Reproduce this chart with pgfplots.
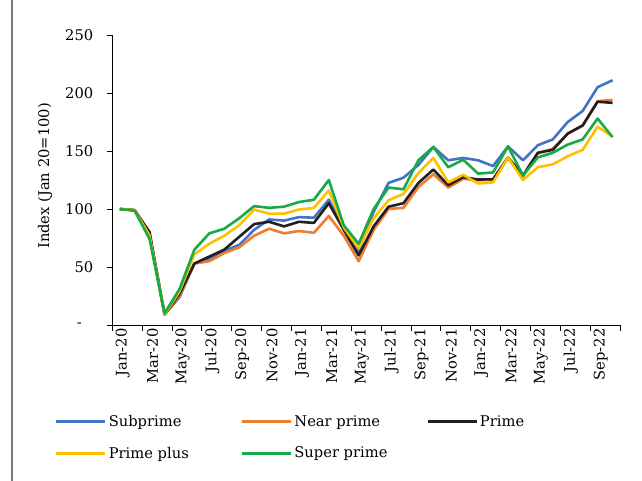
\documentclass[border=0pt]{standalone}
\usepackage{fontspec}
\setmainfont{DejaVu Serif}
\usepackage{pgfplots}
\pgfplotsset{compat=1.18}
\usepackage{pgfplotstable}
\definecolor{cSub}{RGB}{68,114,196}
\definecolor{cNear}{RGB}{237,125,49}
\definecolor{cPrime}{RGB}{35,31,32}
\definecolor{cPlus}{RGB}{255,192,0}
\definecolor{cSuper}{RGB}{22,170,72}
\definecolor{cFrame}{RGB}{120,120,120}
\newcommand{\fs}{\fontsize{14.7}{17.6}\selectfont}
\pgfplotstableread{
m sub near prime plus super
0 100 100 100 100 100
1 99 99 99 99 98.5
2 77 77 80 77 74
3 9 9 9 9 10
4 24 25 27 29 31
5 53 53 53 61 65
6 57 55 59 70 79
7 64 62 65 77 83
8 69 67 76 86 92
9 82 77 87 99.5 102.5
10 91 83 89 96 101
11 90 79 85 96 102
12 93 81 89 99.5 106
13 92.5 79.5 88 101 108
14 108 94 105 116 125
15 83 77 82 84 86
16 64 55 60 66 70
17 97.5 82 85 92 100
18 122.5 100 102 107.5 118.5
19 127 101 105 113 117
20 138 119 122.5 131 142
21 153.5 130 134 144 153.5
22 142 118.5 120.5 123 136
23 144 126 127.5 129.5 142.5
24 142 124.8 125.4 122 130.5
25 137 125 125.6 123 131.5
26 154 144 144.5 144.5 154
27 142 128 129 125 129
28 155 148 148.5 136 144.5
29 160 152 151 138.5 148.5
30 175 165 165 145.5 155.5
31 184.5 172 172 151 160
32 205 193 192.5 171 178
33 211 194 191.5 162.5 162
}\data
\begin{document}
\begin{tikzpicture}[font=\fs]
\path[use as bounding box] (-112.3pt,-155pt) rectangle (529.7pt,325pt);
\draw[cFrame, line width=1.6pt] (-100pt,-156pt) -- (-100pt,326pt);
\begin{axis}[
  at={(0pt,0pt)}, anchor=south west,
  scale only axis, width=507.7pt, height=290pt,
  xmin=-0.5, xmax=33.5, ymin=0, ymax=250,
  axis x line*=bottom, axis y line*=left,
  axis line style={-, black, line width=0.8pt},
  tick align=outside,
  tick style={black, line width=0.8pt},
  major tick length=5.5pt,
  xtick={-0.5,1.5,...,33.5}, xticklabels={},
  extra x ticks={0,2,...,32},
  extra x tick labels={Jan-20,Mar-20,May-20,Jul-20,Sep-20,Nov-20,Jan-21,Mar-21,May-21,Jul-21,Sep-21,Nov-21,Jan-22,Mar-22,May-22,Jul-22,Sep-22},
  extra x tick style={major tick length=0pt},
  xticklabel style={rotate=90, anchor=east, font=\fs, yshift=-3pt},
  ytick={0,50,...,250},
  yticklabels={-\hphantom{0}\kern2pt,50,100,150,200,250},
  yticklabel style={font=\fs, xshift=-10pt},
  every axis y label/.style={at={(axis description cs:0,0.514)}, xshift=-67.3pt, anchor=center, rotate=90},
  ylabel={Index (Jan 20=100)},
  label style={font=\fs},
  legend image code/.code={\draw[#1] (0pt,0pt) -- (49pt,0pt);},
  legend columns=3,
  legend style={at={(axis description cs:0,0)}, anchor=north west, xshift=-57.3pt, yshift=-88pt,
    draw=none, fill=none, inner sep=0pt, font=\fs, row sep=15pt,
    /tikz/every even column/.append style={column sep=0pt}},
  every axis plot/.append style={line width=2.6pt, line join=round},
]
\addplot[cSub] table[x=m,y=sub]{\data};
\addlegendentry{\makebox[130pt][l]{Subprime}}
\addplot[cNear] table[x=m,y=near]{\data};
\addlegendentry{\makebox[130pt][l]{Near prime}}
\addplot[cPrime] table[x=m,y=prime]{\data};
\addlegendentry{\makebox[60pt][l]{Prime}}
\addplot[cPlus] table[x=m,y=plus]{\data};
\addlegendentry{\makebox[130pt][l]{Prime plus}}
\addplot[cSuper] table[x=m,y=super]{\data};
\addlegendentry{\makebox[130pt][l]{Super prime}}
\end{axis}
\end{tikzpicture}
\end{document}
